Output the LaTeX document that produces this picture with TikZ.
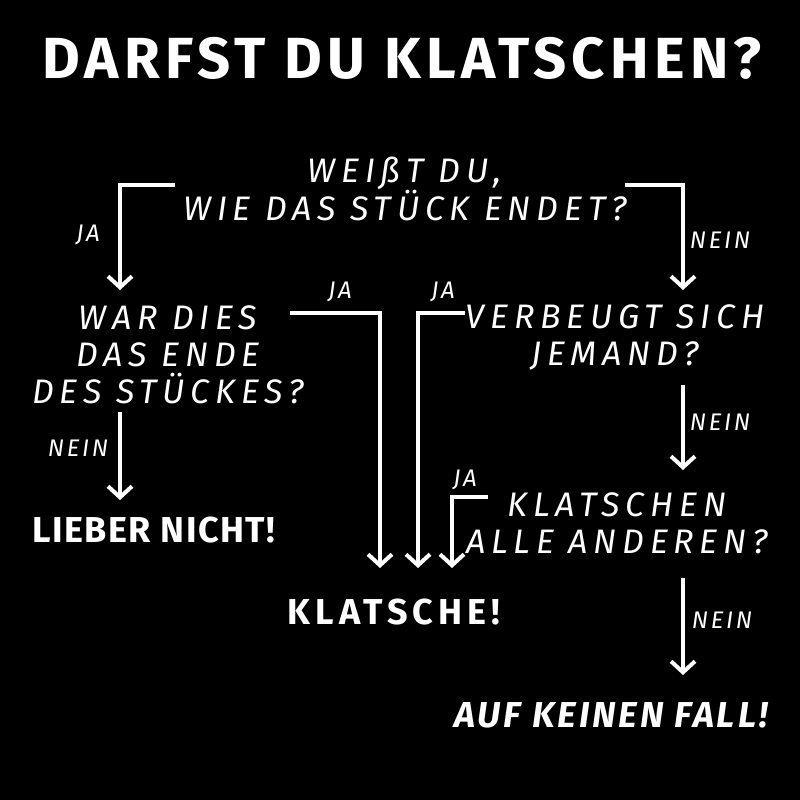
\documentclass[tikz,border=0pt]{standalone}
\usepackage{fontspec}
\setmainfont{Fira Sans}
\usetikzlibrary{arrows.meta}
\begin{document}
\begin{tikzpicture}[x=1pt,y=-1pt,
  hand/.style={text=white,font=\fontsize{34}{37}\selectfont\itshape\addfontfeatures{LetterSpace=17},align=center,inner sep=0pt},
  lbl/.style={text=white,font=\fontsize{24}{26}\selectfont\itshape\addfontfeatures{LetterSpace=11},inner sep=0pt},
  answer/.style={text=white,inner sep=0pt},
  conn/.style={draw=white,line width=4pt,line join=miter,-{Straight Barb[length=11pt,width=24pt,line width=4pt]}}]
\fill[black] (0,0) rectangle (800,800);
\node[text=white,font=\fontsize{58}{60}\selectfont\bfseries\addfontfeatures{LetterSpace=9},inner sep=0pt] (title) at (402,58) {DARFST DU KLATSCHEN?};
\node[hand] (q1) at (405,189) {WEIßT DU,\\WIE DAS STÜCK ENDET?};
\node[hand] (q2) at (168,355) {WAR DIES\\DAS ENDE\\DES STÜCKES?};
\node[hand] (q3) at (615,337) {VERBEUGT SICH\\JEMAND?};
\node[hand] (q4) at (617,523) {KLATSCHEN\\ALLE ANDEREN?};
\node[answer,font=\fontsize{36}{38}\selectfont\bfseries\addfontfeatures{LetterSpace=4}] (lieber) at (154,530) {LIEBER NICHT!};
\node[answer,font=\fontsize{36}{38}\selectfont\bfseries\addfontfeatures{LetterSpace=14}] (klatsche) at (394,612) {KLATSCHE!};
\node[answer,font=\fontsize{36}{38}\selectfont\bfseries\itshape\addfontfeatures{LetterSpace=8}] (auf) at (611,715) {AUF KEINEN FALL!};
\node[lbl] (ja1) at (88,235) {JA};
\node[lbl] (ja2) at (340,292) {JA};
\node[lbl] (ja3) at (443,292) {JA};
\node[lbl] (ja4) at (465,480) {JA};
\node[lbl] (nein1) at (78,448) {NEIN};
\node[lbl] (nein2) at (720,240) {NEIN};
\node[lbl] (nein3) at (720,422) {NEIN};
\node[lbl] (nein4) at (722,620) {NEIN};
\coordinate (a1s) at (175,185); \coordinate (a1e) at (120,290);
\coordinate (a2s) at (625,185); \coordinate (a2e) at (683,290);
\coordinate (a3s) at (120,412); \coordinate (a3e) at (120,500);
\coordinate (a4s) at (290,313); \coordinate (a4e) at (380,568);
\coordinate (a5s) at (465,313); \coordinate (a5e) at (418,568);
\coordinate (a6s) at (488,497); \coordinate (a6e) at (452,568);
\coordinate (a7s) at (683,385); \coordinate (a7e) at (683,470);
\coordinate (a8s) at (683,578); \coordinate (a8e) at (683,675);
\draw[conn] (a1s) -| (a1e);
\draw[conn] (a2s) -| (a2e);
\draw[conn] (a3s) -- (a3e);
\draw[conn] (a4s) -| (a4e);
\draw[conn] (a5s) -| (a5e);
\draw[conn] (a6s) -| (a6e);
\draw[conn] (a7s) -- (a7e);
\draw[conn] (a8s) -- (a8e);
\end{tikzpicture}
\end{document}
